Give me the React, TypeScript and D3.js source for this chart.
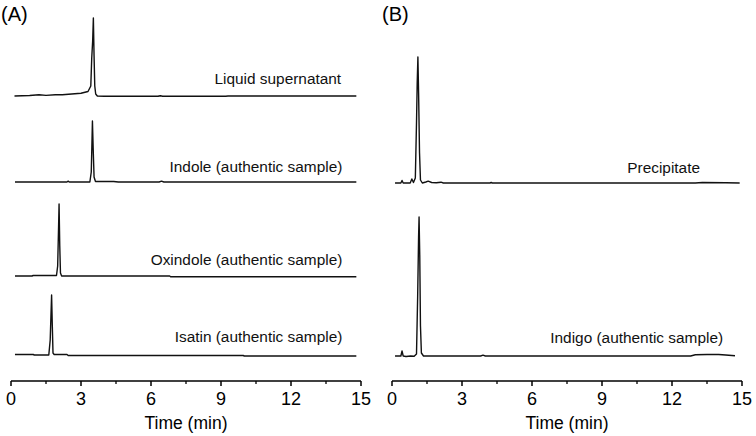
import React, { useRef, useEffect } from 'react';
import * as d3 from 'd3';

// retention time (min) / detector signal (a.u.) for each chromatogram
const supernatantTime = [0.15, 0.8, 1.2, 1.5, 1.9, 2.2, 2.6, 3.0, 3.3, 3.42, 3.46, 3.5, 3.53, 3.56, 3.59, 3.63, 3.7, 4.0, 6.3, 6.4, 6.5, 9.2, 9.3, 14.8];
const supernatantSignal = [0, 0.5, 1.2, 0.6, 1.3, 1.2, 2, 2.8, 4.5, 10, 38, 55, 78, 40, 10, 2, 0, -0.3, -0.3, 0.3, -0.3, -0.3, 0, 0];

const indoleTime = [0.17, 2.4, 2.45, 2.5, 3.38, 3.44, 3.47, 3.49, 3.52, 3.56, 3.62, 3.65, 4.4, 4.6, 6.35, 6.45, 6.55, 14.8];
const indoleSignal = [0, 0, 0.8, 0, 0, 10, 40, 61, 35, 5, 0.5, 0.5, 0.5, 0, 0, 0.8, 0, 0];

const oxindoleTime = [0.17, 0.9, 0.95, 1.95, 2.0, 2.04, 2.06, 2.09, 2.12, 2.17, 6.8, 6.85, 14.8];
const oxindoleSignal = [0, 0, 0.5, 0.5, 10, 50, 72, 30, 3, 0, 0, -0.8, -0.8];

const isatinTime = [0.17, 0.95, 1.0, 1.62, 1.68, 1.72, 1.74, 1.77, 1.8, 1.85, 2.4, 2.45, 9.95, 10.0, 14.8];
const isatinSignal = [0.5, 0.5, 0, 0, 15, 45, 60, 30, 2, 0.5, 0.5, -0.5, -0.5, -1, -1];

const precipitateTime = [0.13, 0.38, 0.43, 0.48, 0.78, 0.85, 0.92, 1.0, 1.05, 1.08, 1.11, 1.14, 1.18, 1.22, 1.3, 1.45, 1.55, 1.7, 1.9, 2.1, 2.2, 4.2, 4.25, 4.3, 13.0, 13.3, 14.3, 14.9];
const precipitateSignal = [0, 0, 2.5, 0, 0, 4, 0.5, 5, 60, 100, 126, 90, 30, 3, 0, 1, 1.8, 0.5, 0.3, 0.8, 0, 0, 0.5, 0, 0, 0.5, 0.3, 0];

const indigoTime = [0.13, 0.38, 0.43, 0.48, 0.6, 0.8, 0.95, 1.05, 1.1, 1.14, 1.16, 1.19, 1.22, 1.26, 1.35, 3.8, 3.9, 4.0, 12.8, 13.0, 13.5, 14.0, 14.3, 14.7];
const indigoSignal = [0, 0, 5, 0, -0.5, 0, -0.3, 2, 60, 120, 139, 100, 30, 3, 0, 0, 0.8, 0, 0, 1.2, 1.5, 1.5, 1, 0.3];

const panelATraces = [
  { name: 'Liquid supernatant', time: supernatantTime, signal: supernatantSignal, offset: 285, labelGap: 12, labelEnd: 14.15 },
  { name: 'Indole (authentic sample)', time: indoleTime, signal: indoleSignal, offset: 199, labelGap: 10, labelEnd: 14.2 },
  { name: 'Oxindole (authentic sample)', time: oxindoleTime, signal: oxindoleSignal, offset: 105, labelGap: 11, labelEnd: 14.2 },
  { name: 'Isatin (authentic sample)', time: isatinTime, signal: isatinSignal, offset: 26, labelGap: 13, labelEnd: 14.2 },
];
const panelBTraces = [
  { name: 'Precipitate', time: precipitateTime, signal: precipitateSignal, offset: 198, labelGap: 10, labelEnd: 13.2 },
  { name: 'Indigo (authentic sample)', time: indigoTime, signal: indigoSignal, offset: 25, labelGap: 13, labelEnd: 14.19 },
];

const majorTicks = [0, 3, 6, 9, 12, 15];
const minorTicks = [1.5, 4.5, 7.5, 10.5, 13.5];

const FONT = '"Liberation Sans", Arial, Helvetica, sans-serif';

function App() {
  const chartRef = useRef(null);

  useEffect(() => {
    drawChart();
  }, []);

  function drawPanel(svg, left, tag, traces) {
    const axisY = 381;
    const x = d3.scaleLinear().domain([0, 15]).range([left, left + 350]);
    const y = d3.scaleLinear().domain([0, 380]).range([axisY, 1]);

    const g = svg.append('g');

    g.append('text')
      .attr('x', left - 10)
      .attr('y', 21)
      .attr('font-family', FONT)
      .attr('font-size', 20)
      .text(tag);

    const line = d3.line()
      .x(d => x(d[0]))
      .y(d => d[1]);

    traces.forEach(tr => {
      const pts = tr.time.map((t, i) => [t, y(tr.offset + tr.signal[i])]);
      g.append('path')
        .datum(pts)
        .attr('fill', 'none')
        .attr('stroke', '#111')
        .attr('stroke-width', 1.4)
        .attr('stroke-linejoin', 'round')
        .attr('d', line);

      g.append('text')
        .attr('x', x(tr.labelEnd))
        .attr('y', y(tr.offset) - tr.labelGap)
        .attr('text-anchor', 'end')
        .attr('font-family', FONT)
        .attr('font-size', 15.4)
        .attr('fill', '#111')
        .text(tr.name);
    });

    const axis = g.append('g');
    axis.append('line')
      .attr('x1', x(0)).attr('x2', x(15))
      .attr('y1', axisY).attr('y2', axisY)
      .attr('stroke', '#000').attr('stroke-width', 1.5);

    axis.selectAll('.major')
      .data(majorTicks)
      .enter().append('line')
      .attr('x1', d => x(d)).attr('x2', d => x(d))
      .attr('y1', axisY).attr('y2', axisY + 5)
      .attr('stroke', '#000').attr('stroke-width', 1.5);

    axis.selectAll('.minor')
      .data(minorTicks)
      .enter().append('line')
      .attr('x1', d => x(d)).attr('x2', d => x(d))
      .attr('y1', axisY).attr('y2', axisY + 3)
      .attr('stroke', '#000').attr('stroke-width', 1.3);

    axis.selectAll('.lbl')
      .data(majorTicks)
      .enter().append('text')
      .attr('x', d => x(d))
      .attr('y', axisY + 24)
      .attr('text-anchor', 'middle')
      .attr('font-family', FONT)
      .attr('font-size', 18)
      .text(d => d);

    g.append('text')
      .attr('x', x(7.5))
      .attr('y', axisY + 48)
      .attr('text-anchor', 'middle')
      .attr('font-family', FONT)
      .attr('font-size', 17.5)
      .text('Time (min)');
  }

  function drawChart() {
    const root = d3.select(chartRef.current);
    root.selectAll('*').remove();
    const svg = root.append('svg')
      .attr('width', 756)
      .attr('height', 436)
      .style('display', 'block');

    svg.append('rect').attr('width', 756).attr('height', 436).attr('fill', '#fff');

    drawPanel(svg, 11, '(A)', panelATraces);
    drawPanel(svg, 392, '(B)', panelBTraces);
  }

  return (
    <div ref={chartRef} style={{ position: 'absolute', left: 0, top: 0 }} />
  );
}

export default App;
